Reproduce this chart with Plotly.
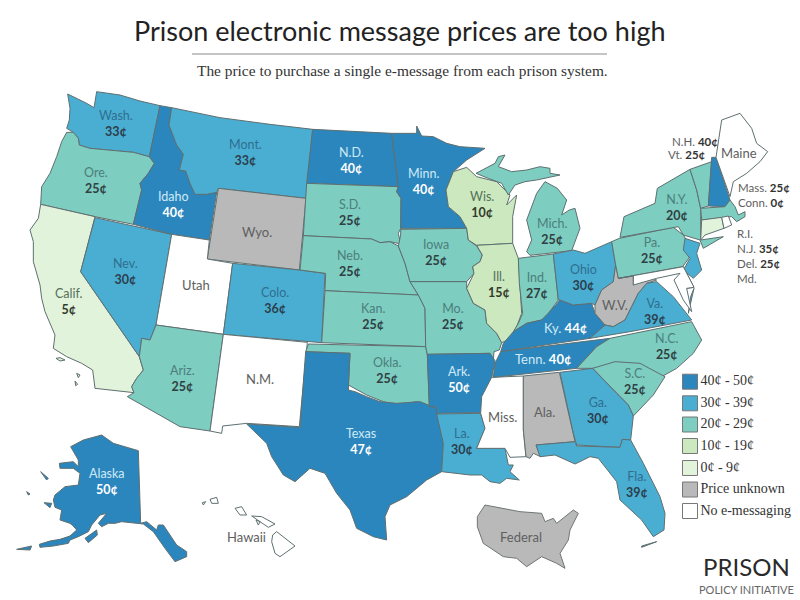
import plotly.graph_objects as go

# ---------- data ----------
states = ["WA","OR","CA","NV","ID","MT","WY","UT","CO","AZ","NM","ND","SD","NE","KS","OK","TX","MN","IA","MO","AR","LA",
          "WI","IL","MS","MI","IN","KY","TN","AL","OH","WV","VA","NC","SC","GA","FL","PA","NY","VT","NH","ME","MA","CT","RI","NJ","DE","MD","AK","HI","US"]
prices = [33,25,5,30,40,33,None,None,36,25,None,40,25,25,25,25,47,40,25,25,50,30,
          10,15,None,25,27,44,40,None,30,None,39,25,25,30,39,25,20,25,40,None,25,0,None,35,25,None,50,None,None]
unknown = ["WY","WV","AL","US"]

legend_labels = ["40¢ - 50¢","30¢ - 39¢","20¢ - 29¢","10¢ - 19¢","0¢ - 9¢","Price unknown","No e-messaging"]
legend_colors = ["#2b86bd","#4aaed3","#7dcdc1","#cbe8be","#e2f3dc","#b9b9ba","#ffffff"]

title = "Prison electronic message prices are too high"
subtitle = "The price to purchase a single e-message from each prison system."

# ---------- outlines, one origin per reading crop ----------
def c(ox, oy, pts):
    return [(ox + x / 3, oy + y / 3) for x, y in pts]
A = lambda p: c(20, 95, p)
B = lambda p: c(290, 120, p)
C = lambda p: c(470, 150, p)
D = lambda p: c(240, 340, p)
E = lambda p: c(10, 420, p)
F = lambda p: c(600, 100, p)

shapes_xy = {
 "WA":[A([(143,-3),(170,10),(200,25),(222,38),(230,-10),(300,0),(360,18),(420,32),(388,185),(340,172),(260,165),(210,160),(178,150),(175,130),(160,112),(140,100),(148,75),(150,40)])],
 "OR":[A([(140,112),(160,112),(175,130),(178,150),(210,160),(260,165),(340,172),(388,185),(403,205),(385,235),(360,265),(365,285),(340,388),(225,365),(62,328),(65,275),(90,235),(110,185),(125,140)])],
 "ID":[A([(420,32),(455,38),(447,90),(470,150),(490,178),(478,225),(497,228),(510,265),(525,298),(560,298),(590,292),(568,435),(455,418),(340,388),(365,285),(360,265),(385,235),(403,205),(388,185)])],
 "MT":[A([(455,38),(600,68),(750,88),(878,103),(858,310),(595,280),(590,292),(560,298),(525,298),(510,265),(497,228),(478,225),(490,178),(470,150),(447,90)])],
 "WY":[A([(595,280),(858,310),(838,525),(562,492)])],
 "UT":[A([(455,418),(568,435),(562,492),(638,505),(610,718),(408,690)])],
 "CO":[A([(638,505),(838,525),(915,535),(905,743),(610,718)])],
 "NV":[A([(225,368),(455,418),(408,690),(390,735),(365,730),(358,785),(182,530)])],
 "CA":[A([(62,328),(225,365),(182,530),(358,785),(370,825),(350,850),(335,875),(342,893),(225,880),(218,825),(185,805),(140,785),(100,760),(105,720),(75,650),(65,610),(60,570),(40,500),(40,440),(30,405),(55,370)]),
       A([(108,790),(120,788),(135,795),(120,798)]),A([(170,835),(180,840),(175,848)]),A([(165,858),(173,868),(167,872)])],
 "AZ":[A([(408,690),(610,718),(570,1008),(480,995),(322,905),(342,893),(335,875),(350,850),(370,825),(358,785),(365,730),(390,735)])],
 "NM":[A([(610,718),(862,742),(838,995),(680,985),(608,993),(605,1015),(570,1008)])],
 "ND":[B([(68,28),(305,40),(325,200),(50,190)])],
 "SD":[B([(50,190),(325,200),(320,215),(333,235),(332,325),(325,340),(332,372),(300,365),(270,368),(245,357),(40,347)])],
 "NE":[B([(40,347),(245,357),(270,368),(300,365),(325,378),(345,430),(360,485),(385,525),(105,512),(107,460),(30,450)])],
 "IA":[B([(332,328),(530,325),(535,360),(560,378),(577,405),(570,425),(548,440),(552,460),(530,485),(360,485),(345,430),(325,378),(332,345)])],
 "KS":[B([(105,512),(385,525),(405,565),(407,680),(95,668)])],
 "MN":[B([(305,40),(380,40),(380,18),(395,48),(430,50),(470,70),(510,80),(585,85),(530,120),(490,155),(468,210),(475,260),(510,290),(530,325),(332,325),(333,235),(320,215),(325,200)])],
 "WI":[B([(490,155),(530,142),(560,170),(620,185),(660,225),(650,255),(680,225),(668,290),(668,370),(560,376),(535,360),(530,325),(510,290),(475,260),(468,210)])],
 "IL":[B([(560,376),(668,370),(685,415),(695,580),(680,620),(665,655),(635,668),(620,640),(590,610),(585,570),(550,550),(530,505),(552,460),(548,440),(570,425),(577,405)])],
 "MO":[B([(360,485),(530,485),(530,505),(550,550),(585,570),(590,610),(620,640),(635,668),(628,690),(612,695),(610,722),(600,700),(412,703),(407,680),(405,565),(385,525)])],
 "OK":[B([(55,672),(407,680),(412,703),(418,860),(380,845),(320,855),(280,845),(230,825),(175,795),(180,700),(47,695)])],
 "AR":[B([(412,703),(600,700),(615,722),(605,775),(585,810),(575,878),(440,880),(437,860),(418,860)])],
 "TX":[D([(197,35),(330,40),(325,150),(345,155),(380,170),(420,185),(470,190),(540,185),(590,205),(610,310),(605,395),(560,420),(500,470),(450,495),(435,530),(440,600),(400,590),(350,565),(330,510),(290,460),(255,400),(210,385),(165,425),(130,405),(95,350),(80,310),(20,252),(180,262)])],
 "LA":[D([(590,222),(722,220),(735,265),(710,325),(795,325),(805,375),(820,375),(810,395),(838,420),(800,415),(780,430),(750,425),(725,405),(690,405),(605,395),(610,310)])],
 "MS":[D([(755,112),(850,108),(850,270),(858,350),(810,352),(795,325),(710,325),(735,265),(722,220),(725,170)])],
 "AL":[D([(850,108),(958,97),(1005,305),(888,315),(902,350),(880,340),(870,355),(858,350),(850,270)])],
 "MI":[C([(180,316),(250,308),(305,302),(330,235),(315,175),(298,180),(275,195),(290,150),(262,115),(225,95),(200,130),(170,210),(185,270),(170,305)]),
       C([(18,70),(75,40),(85,20),(105,15),(85,50),(125,65),(170,60),(210,50),(240,55),(240,70),(270,75),(200,90),(165,95),(135,105),(115,135),(95,100),(55,85)])],
 "IN":[C([(145,325),(250,312),(265,450),(235,490),(215,510),(170,520),(130,545),(145,520),(158,490),(148,400)])],
 "KY":[C([(92,605),(100,580),(130,545),(170,520),(215,510),(235,490),(270,450),(310,465),(365,460),(375,490),(405,525),(360,565)])],
 "TN":[C([(92,605),(420,565),(380,590),(320,655),(70,682),(75,640)])],
 "OH":[C([(250,312),(310,300),(345,310),(390,290),(425,275),(437,345),(430,395),(395,420),(375,465),(365,460),(310,465),(270,450),(265,450)])],
 "MD":[C([(445,385),(640,350),(672,412),(650,415),(665,485),(640,450),(612,390),(630,370),(560,385),(490,405),(490,378)])],
 "PA":[C([(425,275),(448,265),(610,232),(640,255),(665,295),(660,320),(638,350),(445,385),(437,345)])],
 "WV":[C([(437,345),(445,385),(490,378),(490,405),(535,375),(560,390),(530,400),(505,430),(485,470),(465,510),(430,530),(405,525),(375,490),(375,465),(395,420),(430,395)])],
 "VA":[C([(360,565),(405,525),(430,530),(465,510),(485,470),(505,430),(530,400),(560,395),(610,440),(640,480),(665,510),(480,545)]),
       C([(672,415),(655,490),(662,440)])],
 "NC":[C([(420,565),(665,515),(695,570),(670,610),(620,655),(575,680),(505,650),(445,640),(370,655),(320,655),(380,590)])],
 "SC":[D([(1058,85),(1125,65),(1200,70),(1275,110),(1240,165),(1180,228),(1165,195),(1130,160)])],
 "GA":[D([(960,97),(1058,85),(1130,160),(1165,195),(1180,228),(1172,300),(1147,298),(1140,322),(1010,315),(1000,280)])],
 "FL":[D([(888,315),(1005,305),(1010,318),(1140,322),(1147,298),(1172,300),(1210,370),(1260,470),(1275,520),(1272,570),(1240,590),(1205,540),(1140,480),(1130,425),(1075,355),(1050,350),(1005,372),(945,345),(900,350)]),
       D([(1205,622),(1250,605),(1205,618)])],
 "DE":[C([(640,350),(672,412),(650,415)])],
 "NY":[F([(60,412),(72,350),(165,310),(172,265),(270,208),(290,270),(302,325),(302,420),(370,410),(310,445),(300,420),(250,405),(235,380)])],
 "VT":[F([(270,208),(335,185),(325,318),(302,325),(290,270)])],
 "NH":[F([(335,172),(348,172),(390,300),(375,320),(325,318)])],
 "ME":[F([(348,172),(365,60),(420,40),(455,85),(470,130),(503,155),(480,185),(440,220),(400,245),(390,290)])],
 "MA":[F([(302,325),(375,320),(390,300),(405,320),(415,345),(435,335),(435,350),(410,365),(395,350),(305,360)])],
 "CT":[F([(305,360),(365,352),(372,385),(315,405),(302,420)])],
 "RI":[F([(365,352),(385,348),(395,375),(372,385)])],
 "NJ":[F([(255,415),(300,430),(290,460),(305,510),(280,535),(250,510),(270,475),(250,450)])],
 "AK":[E([(182,80),(220,60),(275,45),(310,70),(385,92),(392,310),(410,305),(440,330),(445,315),(460,315),(500,375),(530,395),(530,410),(495,425),(465,385),(430,335),(400,312),(335,305),(315,310),(295,310),(275,320),(265,310),(290,280),(270,285),(245,315),(235,335),(205,350),(180,360),(175,370),(150,375),(130,378),(90,382),(88,373),(120,363),(150,358),(180,348),(200,330),(190,318),(180,310),(150,300),(155,270),(135,262),(130,240),(135,225),(165,200),(205,195),(210,160),(190,145),(150,145),(148,130),(190,125),(205,140),(205,120)]),
       E([(225,355),(260,330),(262,345),(235,368)]),E([(92,155),(115,175),(110,180)]),E([(102,248),(125,250),(120,263)]),E([(20,388),(65,378),(60,390)]),E([(50,215),(60,222),(55,225)])],
 "HI":[E([(788,345),(800,335),(855,378),(810,410),(795,400),(785,365)]),E([(725,288),(755,290),(795,312),(775,322),(750,305)]),E([(675,265),(695,260),(710,285),(690,285)]),E([(600,238),(620,232),(625,250),(605,250)]),E([(577,248),(587,245),(580,255)]),E([(738,300),(750,305),(745,315)])],
 "US":[D([(735,495),(840,515),(905,520),(915,545),(940,535),(950,550),(1000,510),(1015,520),(990,570),(985,600),(960,640),(975,685),(950,670),(905,650),(860,680),(830,655),(790,650),(730,610),(712,560),(712,530)])],
}

# label rows: code, text, x, name y, price y (None = name only)
labels = [
 ("WA","Wash.",116,115,131),("OR","Ore.",96,173,188),("CA","Calif.",69,294,308),("NV","Nev.",125,264,279),
 ("ID","Idaho",173,197,211),("MT","Mont.",245,145,159),("WY","Wyo.",257,232,None),("UT","Utah",196,285,None),
 ("CO","Colo.",275,294,307),("AZ","Ariz.",182,371,386),("NM","N.M.",260,379,None),("ND","N.D.",351,153,167),
 ("MN","Minn.",423,174,189),("SD","S.D.",350,205,219),("NE","Neb.",350,256,270),("IA","Iowa",436,245,260),
 ("KS","Kan.",373,309,323),("MO","Mo.",453,309,323),("OK","Okla.",387,363,378),("WI","Wis.",482,197,211),
 ("MI","Mich.",552,224,238),("IL","Ill.",499,277,292),("IN","Ind.",537,278,292),("OH","Ohio",583,270,284),
 ("WV","W.V.",615,305,None),("VA","Va.",655,304,319),("NC","N.C.",667,339,353),("SC","S.C.",635,374,389),
 ("GA","Ga.",598,403,417),("AL","Ala.",544,412,None),("MS","Miss.",502,417,None),("AR","Ark.",459,372,386),
 ("LA","La.",462,434,448),("TX","Texas",361,434,448),("FL","Fla.",637,477,491),("AK","Alaska",107,474,488),
 ("HI","Hawaii",246,537,None),("US","Federal",521,537,None),("NY","N.Y.",677,200,214),("PA","Pa.",652,243,257),
 ("ME","Maine",739,153,None),
]
inline_center = [("KY","Ky.",565,328),("TN","Tenn.",543,359)]
inline_left = [("NH","N.H.",670,141),("VT","Vt.",666,154),("MA","Mass.",736,187),("CT","Conn.",736,202),
               ("RI","R.I.",735,233),("NJ","N.J.",735,248),("DE","Del.",735,263),("MD","Md.",735,278)]

price_of = dict(zip(states, prices))

def bin_index(code):
    p = price_of[code]
    if p is None:
        return 5 if code in unknown else 6
    return 0 if p >= 40 else 1 if p >= 30 else 2 if p >= 20 else 3 if p >= 10 else 4

NAME_COL = ["#cfeaf7","#2f6f8f","#4c7f7b","#55705a","#55705a","#606060","#606060"]
PRICE_COL = ["#ffffff","#2c3e4c","#2f3f42","#333a2c","#333a2c","#333333","#333333"]
BORDER = "#5f6f70"

fig = go.Figure()
for code in states:
    xs, ys = [], []
    for part in shapes_xy[code]:
        xs += [p[0] for p in part] + [part[0][0], None]
        ys += [p[1] for p in part] + [part[0][1], None]
    i = bin_index(code)
    fig.add_trace(go.Scatter(x=xs, y=ys, mode="lines", fill="toself", fillcolor=legend_colors[i],
                             line=dict(color="#6f7575" if code == "US" else BORDER, width=1),
                             hoverinfo="skip", showlegend=False))

# legend swatches
legend_y = [381.7,403.3,424.5,446,468,489.5,511]
fig.add_trace(go.Scatter(x=[690]*7, y=legend_y, mode="markers+text", text=legend_labels, textposition="middle right",
                         textfont=dict(family="Liberation Serif", size=14, color="#333333"),
                         marker=dict(symbol="square", size=15, color=legend_colors, line=dict(color="#777777", width=1)),
                         hoverinfo="skip", showlegend=False))

ann = []
def t(x, y, s, color, size=13, anchor="center", family="Lato"):
    ann.append(dict(x=x, y=y, xref="x", yref="y", text=s, showarrow=False, xanchor=anchor, yanchor="middle",
                    font=dict(family=family, size=size, color=color)))

for code, name, x, y1, y2 in labels:
    i = bin_index(code)
    if y2 is None:
        t(x, y1, name, NAME_COL[i])
    else:
        t(x, (y1 + y2) / 2, f"<span style='color:{NAME_COL[i]}'>{name}</span><br><b>{price_of[code]}¢</b>",
          PRICE_COL[i], size=12.5)
for code, name, x, y in inline_center:
    i = bin_index(code)
    t(x, y, f"<span style='color:{NAME_COL[i]}'>{name}</span> <b>{price_of[code]}¢</b>", PRICE_COL[i])
for code, name, x, y in inline_left:
    s = f"<span style='color:#606060'>{name}</span>"
    if price_of[code] is not None:
        s += f" <b>{price_of[code]}¢</b>"
    t(x, y, s, "#333333", size=11.5, anchor="left")

t(400, 30, title, "#222222", size=27)
t(402, 70, subtitle, "#333333", size=15.4, family="Liberation Serif")
t(746, 566, "PRISON", "#2a2a2a", size=24, family="Lato")
t(746, 589, "POLICY INITIATIVE", "#666666", size=11, family="Lato")

fig.update_layout(
    width=800, height=600, margin=dict(l=0, r=0, t=0, b=0), paper_bgcolor="white", plot_bgcolor="white",
    xaxis=dict(range=[0, 800], visible=False, fixedrange=True),
    yaxis=dict(range=[600, 0], visible=False, fixedrange=True),
    annotations=ann,
    shapes=[dict(type="line", xref="x", yref="y", x0=192, x1=607, y0=54, y1=54, line=dict(color="#8a8a8a", width=1))],
)
fig.write_html("out.html", config={"displayModeBar": False},
               post_script="document.body.style.margin='0';document.documentElement.style.overflow='hidden';")
